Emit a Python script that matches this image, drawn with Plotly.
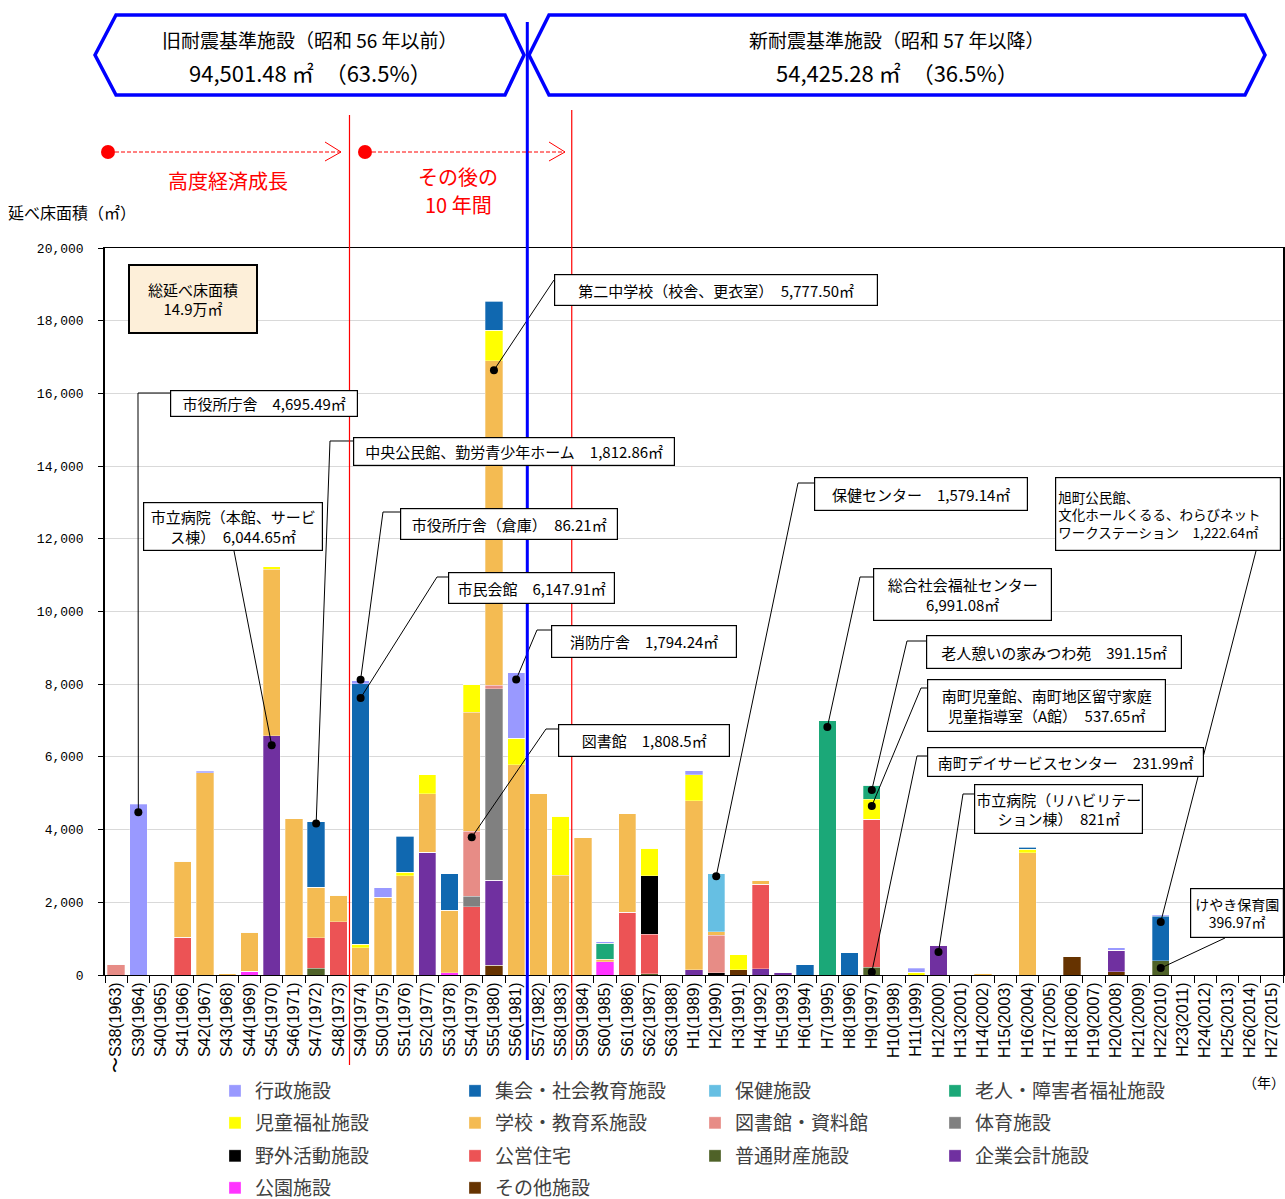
import plotly.graph_objects as go

# ---------------- data ----------------
categories = [
    "S38(1963)", "S39(1964)", "S40(1965)", "S41(1966)", "S42(1967)", "S43(1968)", "S44(1969)",
    "S45(1970)", "S46(1971)", "S47(1972)", "S48(1973)", "S49(1974)", "S50(1975)", "S51(1976)",
    "S52(1977)", "S53(1978)", "S54(1979)", "S55(1980)", "S56(1981)", "S57(1982)", "S58(1983)",
    "S59(1984)", "S60(1985)", "S61(1986)", "S62(1987)", "S63(1988)", "H1(1989)", "H2(1990)",
    "H3(1991)", "H4(1992)", "H5(1993)", "H6(1994)", "H7(1995)", "H8(1996)", "H9(1997)",
    "H10(1998)", "H11(1999)", "H12(2000)", "H13(2001)", "H14(2002)", "H15(2003)", "H16(2004)",
    "H17(2005)", "H18(2006)", "H19(2007)", "H20(2008)", "H21(2009)", "H22(2010)", "H23(2011)",
    "H24(2012)", "H25(2013)", "H26(2014)", "H27(2015)",
]
tick_labels = ["〜S38(1963)"] + categories[1:]

# floor area (m2) by facility type, one value per year (rows of 10)
gyosei = [0, 4695, 0, 0, 40, 0, 0, 0, 0, 0,
          0, 90, 260, 0, 0, 0, 0, 0, 1790, 0,
          0, 0, 40, 0, 0, 0, 110, 0, 0, 0,
          0, 0, 0, 0, 0, 0, 100, 0, 0, 0,
          0, 0, 0, 0, 0, 70, 0, 40, 0, 0,
          0, 0, 0]
shukai = [0, 0, 0, 0, 0, 0, 0, 0, 0, 1800,
          0, 7170, 0, 1000, 0, 1000, 0, 790, 0, 0,
          0, 0, 0, 0, 0, 0, 0, 0, 0, 0,
          0, 280, 0, 610, 0, 0, 0, 0, 0, 0,
          0, 50, 0, 0, 0, 0, 0, 1220, 0, 0,
          0, 0, 0]
hoken = [0, 0, 0, 0, 0, 0, 0, 0, 0, 0,
         0, 0, 0, 0, 0, 0, 0, 0, 0, 0,
         0, 0, 0, 0, 0, 0, 0, 1600, 0, 0,
         0, 0, 0, 0, 0, 0, 0, 0, 0, 0,
         0, 0, 0, 0, 0, 0, 0, 0, 0, 0,
         0, 0, 0]
rojin = [0, 0, 0, 0, 0, 0, 0, 0, 0, 0,
         0, 0, 0, 0, 0, 0, 0, 0, 0, 0,
         0, 0, 440, 0, 0, 0, 0, 0, 0, 0,
         0, 0, 6990, 0, 390, 0, 0, 0, 0, 0,
         0, 0, 0, 0, 0, 0, 0, 0, 0, 0,
         0, 0, 0]
jido = [0, 0, 0, 0, 0, 0, 0, 70, 0, 0,
        0, 90, 0, 90, 520, 0, 760, 840, 740, 0,
        1620, 0, 0, 0, 760, 0, 720, 0, 410, 0,
        0, 0, 0, 0, 540, 0, 80, 0, 0, 0,
        0, 100, 0, 0, 0, 0, 0, 0, 0, 0,
        0, 0, 0]
gakko = [0, 0, 0, 2090, 5570, 30, 1070, 4580, 4300, 1390,
         720, 750, 2140, 2730, 1610, 1720, 3270, 8930, 5780, 4980,
         2750, 3780, 80, 2720, 0, 0, 4640, 100, 0, 110,
         0, 0, 0, 0, 0, 0, 0, 0, 0, 55,
         0, 3360, 0, 0, 0, 0, 0, 0, 0, 0,
         0, 0, 0]
toshokan = [300, 0, 0, 0, 0, 0, 0, 0, 0, 0,
            0, 0, 0, 0, 0, 0, 1800, 100, 0, 0,
            0, 0, 0, 0, 0, 0, 0, 1030, 0, 0,
            0, 0, 0, 0, 0, 0, 0, 0, 0, 0,
            0, 0, 0, 0, 0, 0, 0, 0, 0, 0,
            0, 0, 0]
taiiku = [0, 0, 0, 0, 0, 0, 0, 0, 0, 0,
          0, 0, 0, 0, 0, 0, 280, 5260, 0, 0,
          0, 0, 0, 0, 0, 0, 0, 0, 0, 0,
          0, 0, 0, 0, 0, 0, 0, 0, 0, 0,
          0, 0, 0, 0, 0, 0, 0, 0, 0, 0,
          0, 0, 0]
yagai = [0, 0, 0, 0, 0, 0, 0, 0, 0, 0,
         0, 0, 0, 0, 0, 0, 0, 0, 0, 0,
         0, 0, 0, 0, 1610, 0, 0, 60, 0, 0,
         0, 0, 0, 0, 0, 0, 0, 0, 0, 0,
         0, 0, 0, 0, 0, 0, 0, 0, 0, 0,
         0, 0, 0]
koei = [0, 0, 0, 1040, 0, 0, 0, 0, 0, 850,
        1470, 0, 0, 0, 0, 0, 1880, 0, 0, 0,
        0, 0, 0, 1720, 1080, 0, 0, 0, 0, 2330,
        0, 0, 0, 0, 4070, 0, 0, 0, 0, 0,
        0, 0, 0, 0, 0, 0, 0, 0, 0, 0,
        0, 0, 0]
futsu = [0, 0, 0, 0, 0, 0, 0, 0, 0, 180,
         0, 0, 0, 0, 0, 0, 0, 0, 0, 0,
         0, 0, 0, 0, 40, 0, 0, 0, 0, 0,
         0, 0, 0, 0, 220, 0, 0, 0, 0, 0,
         0, 0, 0, 0, 0, 0, 0, 390, 0, 0,
         0, 0, 0]
kigyo = [0, 0, 0, 0, 0, 0, 0, 6580, 0, 0,
         0, 0, 0, 0, 3380, 0, 0, 2340, 0, 0,
         0, 0, 0, 0, 0, 0, 150, 0, 0, 170,
         70, 0, 0, 0, 0, 0, 0, 820, 0, 0,
         0, 0, 0, 0, 0, 590, 0, 0, 0, 0,
         0, 0, 0]
koen = [0, 0, 0, 0, 0, 0, 100, 0, 0, 0,
        0, 0, 0, 0, 0, 60, 0, 0, 0, 0,
        0, 0, 360, 0, 0, 0, 0, 0, 0, 0,
        0, 0, 0, 0, 0, 0, 0, 0, 0, 0,
        0, 0, 0, 0, 0, 0, 0, 0, 0, 0,
        0, 0, 0]
sonota = [0, 0, 0, 0, 0, 0, 0, 0, 0, 0,
          0, 0, 0, 0, 0, 0, 0, 270, 0, 0,
          0, 0, 0, 0, 0, 0, 0, 0, 150, 0,
          0, 0, 0, 0, 0, 0, 0, 0, 0, 0,
          0, 0, 0, 500, 0, 90, 0, 0, 0, 0,
          0, 0, 0]

# stacked bottom -> top  (name, values, colour, legend row)
series = [
    ("その他施設", sonota, "#663300", 4),
    ("公園施設", koen, "#FF33FF", 4),
    ("企業会計施設", kigyo, "#7030A0", 3),
    ("普通財産施設", futsu, "#4F6228", 3),
    ("公営住宅", koei, "#EC5355", 3),
    ("野外活動施設", yagai, "#000000", 3),
    ("体育施設", taiiku, "#808080", 2),
    ("図書館・資料館", toshokan, "#E78C86", 2),
    ("学校・教育系施設", gakko, "#F4BB52", 2),
    ("児童福祉施設", jido, "#FFFF00", 2),
    ("老人・障害者福祉施設", rojin, "#1BA878", 1),
    ("保健施設", hoken, "#66BFE3", 1),
    ("集会・社会教育施設", shukai, "#1068B0", 1),
    ("行政施設", gyosei, "#9999FF", 1),
]

y_ticks = list(range(0, 20001, 2000))

# callouts: text, box (px), leader bend points (px), target category, target value, align, font size
callouts = [
    ("市役所庁舎　4,695.49㎡", (170, 390, 358, 417), [(170, 393), (138, 393)], "S39(1964)", 4480, "center", 15),
    ("中央公民館、勤労青少年ホーム　1,812.86㎡", (353, 437, 675, 466), [(353, 441), (330, 441)], "S47(1972)", 4170, "center", 15),
    ("市立病院（本館、サービ<br>ス棟）　6,044.65㎡", (143, 502, 323, 551), [(234, 551)], "S45(1970)", 6320, "center", 15),
    ("市役所庁舎（倉庫）　86.21㎡", (400, 508, 618, 540), [(400, 512), (383, 512)], "S49(1974)", 8120, "center", 15),
    ("市民会館　6,147.91㎡", (448, 572, 615, 604), [(448, 577), (437, 577)], "S49(1974)", 7620, "center", 15),
    ("第二中学校（校舎、更衣室）　5,777.50㎡", (554, 274, 878, 306), [(554, 280)], "S55(1980)", 16640, "center", 15),
    ("消防庁舎　1,794.24㎡", (551, 625, 737, 658), [(551, 630), (537, 630)], "S56(1981)", 8130, "center", 15),
    ("図書館　1,808.5㎡", (558, 724, 730, 757), [(558, 729), (546, 729)], "S54(1979)", 3790, "center", 15),
    ("保健センター　1,579.14㎡", (814, 477, 1028, 511), [(814, 483), (798, 483)], "H2(1990)", 2720, "center", 15),
    ("総合社会福祉センター<br>6,991.08㎡", (873, 568, 1052, 621), [(873, 577), (860, 577)], "H7(1995)", 6820, "center", 15),
    ("老人憩いの家みつわ苑　391.15㎡", (926, 635, 1182, 669), [(926, 641), (907, 641)], "H9(1997)", 5090, "center", 15),
    ("南町児童館、南町地区留守家庭<br>児童指導室（A館）　537.65㎡", (927, 679, 1166, 732), [(927, 688), (921, 688)], "H9(1997)", 4650, "center", 15),
    ("南町デイサービスセンター　231.99㎡", (927, 747, 1204, 777), [(927, 756), (917, 756)], "H9(1997)", 80, "center", 15),
    ("市立病院（リハビリテー<br>ション棟）　821㎡", (974, 784, 1143, 834), [(974, 794), (963, 794)], "H12(2000)", 630, "center", 15),
    ("旭町公民館、<br>文化ホールくるる、わらびネット<br>ワークステーション　1,222.64㎡", (1055, 477, 1281, 551), [(1256, 551)], "H22(2010)", 1460, "left", 13.5),
    ("けやき保育園<br>396.97㎡", (1190, 888, 1284, 938), [(1225, 938)], "H22(2010)", 190, "center", 14),
]

# ---------------- layout geometry ----------------
W, H = 1285, 1199
L, R, T, B = 105, 2, 248, 224
PW = W - L - R
PH = H - T - B
YMAX = 20000
N = len(categories)


def px(x):
    return (x - L) / PW


def py(y):
    return (T + PH - y) / PH


def cat_paper(cat):
    return (categories.index(cat) + 0.5) / N


JP = "Noto Sans CJK JP"
legend_names = {1: "legend", 2: "legend2", 3: "legend3", 4: "legend4"}

fig = go.Figure()
for name, vals, color, row in series:
    fig.add_trace(go.Bar(
        x=categories, y=vals, name=name, legend=legend_names[row],
        marker=dict(color=color, line=dict(color="rgba(255,255,255,0.6)", width=0.5)),
    ))

# callout target dots
fig.add_trace(go.Scatter(
    x=[c[3] for c in callouts], y=[c[4] for c in callouts],
    mode="markers", marker=dict(color="black", size=8),
    showlegend=False, hoverinfo="skip",
))

shapes = []
annotations = []


def text_ann(x, y, text, size, color="black", **kw):
    d = dict(xref="paper", yref="paper", x=px(x), y=py(y), xanchor="center", yanchor="middle",
             text=text, showarrow=False, font=dict(family=JP, size=size, color=color))
    d.update(kw)
    return d


# leader lines and boxes
PAD = 2
for text, (x0, y0, x1, y1), bends, cat, val, align, fsize in callouts:
    pts = [(px(x), py(y)) for x, y in bends] + [(cat_paper(cat), val / YMAX)]
    path = "M " + " L ".join(f"{a:.5f},{b:.5f}" for a, b in pts)
    shapes.append(dict(type="path", xref="paper", yref="paper", path=path,
                       line=dict(color="black", width=1)))
    annotations.append(text_ann(
        (x0 + x1) / 2, (y0 + y1) / 2, text, fsize,
        width=x1 - x0 - 2 - 2 * PAD, height=y1 - y0 - 2 - 2 * PAD, align=align,
        bgcolor="white", bordercolor="black", borderwidth=1.2, borderpad=PAD,
    ))

# total area box
annotations.append(text_ann(192.5, 298.5, "総延べ床面積<br>14.9万㎡", 15, width=126, height=66,
                            bgcolor="#FDEFD9", bordercolor="black", borderwidth=2, borderpad=0))


# top banners (hexagonal arrows)
def hexpath(pts):
    return "M " + " L ".join(f"{px(x):.5f},{py(y):.5f}" for x, y in pts) + " Z"


shapes.append(dict(type="path", xref="paper", yref="paper", layer="above",
                   path=hexpath([(95, 55), (116, 15), (505, 15), (524, 55), (505, 95), (116, 95)]),
                   line=dict(color="#0000FF", width=3.5), fillcolor="white"))
shapes.append(dict(type="path", xref="paper", yref="paper", layer="above",
                   path=hexpath([(529, 55), (549, 15), (1245, 15), (1265, 55), (1245, 95), (549, 95)]),
                   line=dict(color="#0000FF", width=3.5), fillcolor="white"))
annotations += [
    text_ann(310, 40, "旧耐震基準施設（昭和 56 年以前）", 19),
    text_ann(310, 72, "94,501.48 ㎡　（63.5%）", 22),
    text_ann(897, 40, "新耐震基準施設（昭和 57 年以降）", 19),
    text_ann(897, 72, "54,425.28 ㎡　（36.5%）", 22),
]

# period divider lines (at category boundaries)
shapes.append(dict(type="line", xref="x", yref="paper", x0=18.5, x1=18.5, y0=py(22), y1=py(1060),
                   line=dict(color="#0000FF", width=3), layer="above"))
shapes.append(dict(type="line", xref="x", yref="paper", x0=10.5, x1=10.5, y0=py(115), y1=py(1065),
                   line=dict(color="#FF0000", width=1.2), layer="above"))
shapes.append(dict(type="line", xref="x", yref="paper", x0=20.5, x1=20.5, y0=py(110), y1=py(1060),
                   line=dict(color="#FF0000", width=1.2), layer="above"))

# red period arrows
for (xs, xe) in [(108, 341), (365, 565)]:
    shapes.append(dict(type="circle", xref="paper", yref="paper",
                       x0=px(xs - 7), x1=px(xs + 7), y0=py(159), y1=py(145),
                       fillcolor="#FF0000", line=dict(color="#FF0000", width=0)))
    shapes.append(dict(type="line", xref="paper", yref="paper", x0=px(xs + 7), x1=px(xe), y0=py(152), y1=py(152),
                       line=dict(color="#FF0000", width=1, dash="4px,2px")))
    shapes.append(dict(type="path", xref="paper", yref="paper",
                       path=f"M {px(xe-16):.5f},{py(142):.5f} L {px(xe):.5f},{py(152):.5f} L {px(xe-16):.5f},{py(161):.5f}",
                       line=dict(color="#FF0000", width=1)))
annotations += [
    text_ann(228, 180, "高度経済成長", 20, "#FF0000"),
    text_ann(458, 176, "その後の", 20, "#FF0000"),
    text_ann(458, 204, "10 年間", 20, "#FF0000"),
    text_ann(72, 212, "延べ床面積（㎡）", 16),
    text_ann(1264, 1082, "（年）", 14),
]

legend_rows_y = {1: 1091, 2: 1123, 3: 1156, 4: 1188}
legend_common = dict(
    orientation="h", traceorder="reversed",
    x=px(215), xanchor="left", yanchor="middle",
    entrywidth=195, entrywidthmode="pixels",
    font=dict(family=JP, size=19, color="#404040"),
    bgcolor="rgba(0,0,0,0)",
)

fig.update_layout(
    width=W, height=H,
    margin=dict(l=L, r=R, t=T, b=B, autoexpand=False),
    paper_bgcolor="white", plot_bgcolor="white",
    barmode="stack", bargap=0.22,
    font=dict(family=JP, color="black"),
    shapes=shapes, annotations=annotations,
    legend=dict(legend_common, y=py(legend_rows_y[1])),
    legend2=dict(legend_common, y=py(legend_rows_y[2])),
    legend3=dict(legend_common, y=py(legend_rows_y[3])),
    legend4=dict(legend_common, y=py(legend_rows_y[4])),
    xaxis=dict(
        type="category", categoryorder="array", categoryarray=categories,
        tickvals=categories, ticktext=tick_labels,
        range=[-0.5, N - 0.5],
        tickangle=-90, tickson="boundaries", ticks="outside", ticklen=7, tickcolor="black",
        tickfont=dict(family="Liberation Sans", size=16, color="black"),
        showline=True, linecolor="black", linewidth=1, mirror=True,
        showgrid=False,
    ),
    yaxis=dict(
        range=[0, YMAX], tickvals=y_ticks, tickformat=",",
        ticks="outside", ticklen=5, tickcolor="black",
        tickfont=dict(family="Liberation Mono", size=13, color="black"),
        ticklabelstandoff=12,
        showline=True, linecolor="black", linewidth=1.5, mirror=True,
        showgrid=True, gridcolor="#D9D9D9", gridwidth=1, zeroline=False,
    ),
)

fig.write_html("out.html", config={"displayModeBar": False},
               post_script="document.body.style.margin='0px';")
